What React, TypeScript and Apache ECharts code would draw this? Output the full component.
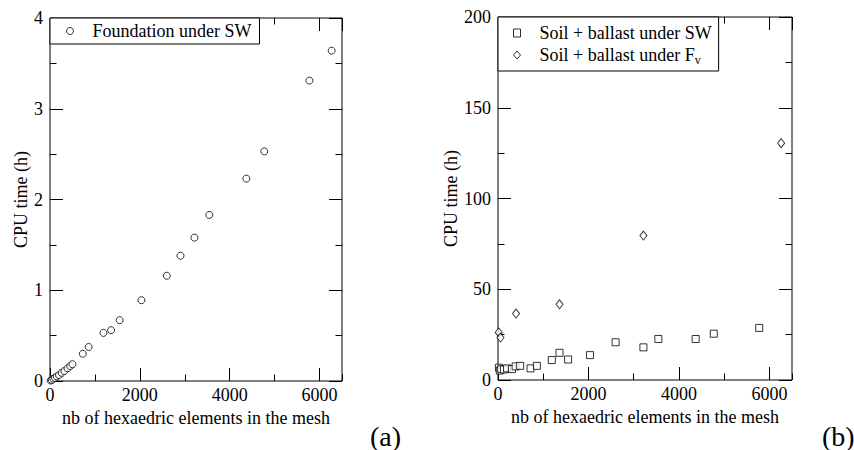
import React, { useEffect, useRef } from "react";
import * as echarts from "echarts";

// ---- Data ----
// (a) Foundation under SW
const foundationX = [15, 40, 75, 110, 150, 200, 260, 320, 390, 450, 500, 730, 860, 1190, 1360, 1550, 2035, 2600, 2905, 3215, 3545, 4370, 4770, 5775, 6270];
const foundationY = [0.005, 0.012, 0.025, 0.035, 0.05, 0.065, 0.09, 0.11, 0.14, 0.165, 0.185, 0.3, 0.375, 0.53, 0.56, 0.67, 0.89, 1.16, 1.38, 1.58, 1.83, 2.23, 2.53, 3.31, 3.64];

// (b) Soil + ballast under SW
const soilSwX = [20, 40, 70, 130, 200, 310, 390, 490, 720, 860, 1190, 1360, 1550, 2035, 2600, 3215, 3545, 4370, 4770, 5775];
const soilSwY = [6.8, 5.2, 6.0, 5.8, 6.4, 6.0, 7.5, 7.8, 6.4, 7.8, 11, 15, 11.3, 13.7, 20.8, 18, 22.6, 22.6, 25.5, 28.7];

// (b) Soil + ballast under Fv
const soilFvX = [15, 55, 400, 1360, 3215, 6260];
const soilFvY = [26.2, 23.4, 36.6, 41.7, 79.6, 130.5];

// Axis settings / texts
const xMax = 6500;
const xMajor = 2000;
const xMinor = 1000;
const yMaxA = 4;
const yMajorA = 1;
const yMinorA = 0.5;
const yMaxB = 200;
const yMajorB = 50;
const yMinorB = 25;
const xTitle = "nb of hexaedric elements in the mesh";
const yTitle = "CPU time (h)";
const nameA = "Foundation under SW";
const nameB1 = "Soil + ballast under SW";
const nameB2 = "Soil + ballast under Fv";

const FONT = "Liberation Serif";

function xAx(grid: number, pos: string, interval: number, len: number, labels: boolean, name?: string) {
  return {
    type: "value",
    gridIndex: grid,
    position: pos,
    min: 0,
    max: xMax,
    interval,
    axisLine: { show: false, onZero: false },
    axisTick: { show: true, inside: true, length: len, lineStyle: { color: "#000", width: 1 } },
    axisLabel: labels
      ? {
          show: true,
          margin: 5,
          fontSize: 18,
          fontFamily: FONT,
          color: "#000",
          showMaxLabel: false,
          formatter: (v: number) => String(v),
        }
      : { show: false },
    splitLine: { show: false },
    name: name || "",
    nameLocation: "middle",
    nameGap: 25,
    nameTextStyle: { fontSize: 18, fontFamily: FONT, color: "#000" },
  };
}

function yAx(grid: number, pos: string, max: number, interval: number, len: number, labels: boolean, name?: string, nameGap?: number) {
  return {
    type: "value",
    gridIndex: grid,
    position: pos,
    min: 0,
    max,
    interval,
    axisLine: { show: false, onZero: false },
    axisTick: { show: true, inside: true, length: len, lineStyle: { color: "#000", width: 1 } },
    axisLabel: labels
      ? { show: true, margin: 7, fontSize: 18, fontFamily: FONT, color: "#000", formatter: (v: number) => String(v) }
      : { show: false },
    splitLine: { show: false },
    name: name || "",
    nameLocation: "middle",
    nameGap: nameGap || 20,
    nameTextStyle: { fontSize: 18, fontFamily: FONT, color: "#000" },
  };
}

export default function App() {
  const ref = useRef<HTMLDivElement>(null);

  useEffect(() => {
    if (!ref.current) return;
    const chart = echarts.init(ref.current, null, { renderer: "svg" });
    const markStyle = { color: "#fff", borderColor: "#000", borderWidth: 1 };
    const legendBase = {
      orient: "vertical",
      itemGap: 0,
      itemWidth: 7,
      itemHeight: 8,
      selectedMode: false,
      borderColor: "#000",
      borderWidth: 1,
      borderRadius: 0,
      backgroundColor: "#fff",
      itemStyle: { borderWidth: 1 },
    };
    chart.setOption({
      animation: false,
      backgroundColor: "#fff",
      grid: [
        { left: 50, top: 18, width: 292, height: 363, show: true, borderColor: "#000", borderWidth: 1, backgroundColor: "transparent" },
        { left: 498, top: 17, width: 294, height: 363, show: true, borderColor: "#000", borderWidth: 1, backgroundColor: "transparent" },
      ],
      xAxis: [
        xAx(0, "bottom", xMajor, 13, true, xTitle),
        xAx(0, "bottom", xMinor, 6.5, false),
        xAx(0, "top", xMajor, 13, false),
        xAx(0, "top", xMinor, 6.5, false),
        xAx(1, "bottom", xMajor, 13, true, xTitle),
        xAx(1, "bottom", xMinor, 6.5, false),
        xAx(1, "top", xMajor, 13, false),
        xAx(1, "top", xMinor, 6.5, false),
      ],
      yAxis: [
        yAx(0, "left", yMaxA, yMajorA, 13, true, yTitle, 20),
        yAx(0, "left", yMaxA, yMinorA, 6.5, false),
        yAx(0, "right", yMaxA, yMajorA, 13, false),
        yAx(0, "right", yMaxA, yMinorA, 6.5, false),
        yAx(1, "left", yMaxB, yMajorB, 13, true, yTitle, 38),
        yAx(1, "left", yMaxB, yMinorB, 6.5, false),
        yAx(1, "right", yMaxB, yMajorB, 13, false),
        yAx(1, "right", yMaxB, yMinorB, 6.5, false),
      ],
      legend: [
        {
          ...legendBase,
          data: [nameA],
          left: 50,
          top: 18,
          padding: [2, 8, 2, 16],
          formatter: (n: string) => "{a|" + n + "}",
          textStyle: {
            fontSize: 18,
            fontFamily: FONT,
            color: "#000",
            lineHeight: 22,
            rich: {
              a: { fontSize: 18, fontFamily: FONT, color: "#000", lineHeight: 22, padding: [0, 0, 0, 14] },
            },
          },
        },
        {
          ...legendBase,
          data: [nameB1, nameB2],
          left: 498,
          top: 17,
          padding: [5, 7, 5, 15],
          formatter: (n: string) =>
            n === nameB2 ? "{a|Soil + ballast under F}{sub|v}" : "{a|" + n + "}",
          textStyle: {
            fontSize: 18,
            fontFamily: FONT,
            color: "#000",
            lineHeight: 22,
            rich: {
              a: { fontSize: 18, fontFamily: FONT, color: "#000", lineHeight: 22, padding: [0, 0, 0, 14] },
              sub: { fontSize: 12, fontFamily: FONT, color: "#000", lineHeight: 10, verticalAlign: "bottom" },
            },
          },
        },
      ],
      series: [
        {
          type: "scatter",
          name: nameA,
          xAxisIndex: 0,
          yAxisIndex: 0,
          symbol: "circle",
          symbolSize: 7,
          itemStyle: markStyle,
          silent: true,
          data: foundationX.map((x, i) => [x, foundationY[i]]),
        },
        {
          type: "scatter",
          name: nameB1,
          xAxisIndex: 4,
          yAxisIndex: 4,
          symbol: "rect",
          symbolSize: 7,
          itemStyle: markStyle,
          silent: true,
          data: soilSwX.map((x, i) => [x, soilSwY[i]]),
        },
        {
          type: "scatter",
          name: nameB2,
          xAxisIndex: 4,
          yAxisIndex: 4,
          symbol: "diamond",
          symbolSize: [7, 9],
          itemStyle: markStyle,
          silent: true,
          data: soilFvX.map((x, i) => [x, soilFvY[i]]),
        },
      ],
      graphic: [
        { type: "text", left: 370, top: 422, style: { text: "(a)", fontSize: 28, fontFamily: FONT, fill: "#000" } },
        { type: "text", left: 822, top: 422, style: { text: "(b)", fontSize: 28, fontFamily: FONT, fill: "#000" } },
      ],
    });
    return () => chart.dispose();
  }, []);

  return (
    <div
      ref={ref}
      style={{ position: "absolute", left: 0, top: 0, width: 854, height: 450, background: "#fff" }}
    />
  );
}
